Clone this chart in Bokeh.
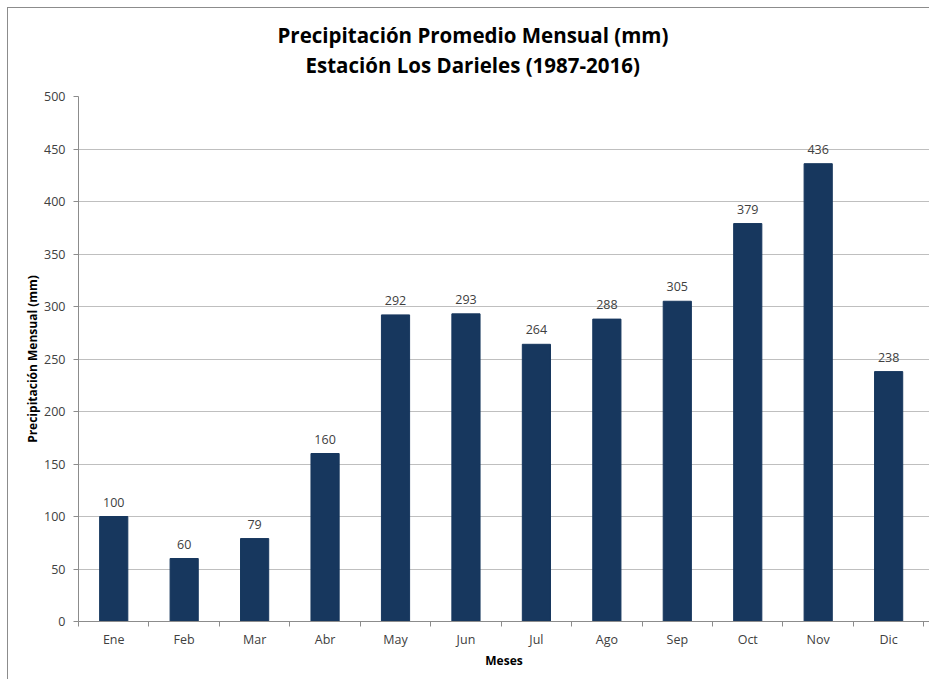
from bokeh.plotting import figure
from bokeh.models import ColumnDataSource, LabelSet, Title, FixedTicker, Range1d
from bokeh.core.properties import value
from bokeh.embed import file_html
from bokeh.resources import INLINE

months = ["Ene", "Feb", "Mar", "Abr", "May", "Jun", "Jul", "Ago", "Sep", "Oct", "Nov", "Dic"]
precip = [100, 60, 79, 160, 292, 293, 264, 288, 305, 379, 436, 238]
y_ticks = [0, 50, 100, 150, 200, 250, 300, 350, 400, 450, 500]

title_line1 = "Precipitación Promedio Mensual (mm)"
title_line2 = "Estación Los Darieles (1987-2016)"

xpos = [i + 0.5 for i in range(len(months))]
src = ColumnDataSource(dict(x=xpos, y=precip, label=[str(v) for v in precip]))

FONT = "Open Sans"
BAR = "#17375E"
GRID = "#bfbfbf"
AX = "#8c8c8c"
W, H = 921, 671

p = figure(width=W, height=H, output_backend="svg", toolbar_location=None,
           x_range=Range1d(0, len(months) + 0.08), y_range=Range1d(0, 500),
           min_border_left=70, min_border_right=0, min_border_top=88, min_border_bottom=58,
           title=None)
p.styles = {"outline": "1px solid #8c8c8c", "margin-left": "8px", "margin-top": "8px"}

p.vbar(x="x", top="y", width=0.4, source=src, fill_color=BAR, line_color=BAR)

labels = LabelSet(x="x", y="y", text="label", source=src, text_align="center",
                  text_baseline="bottom", y_offset=10, text_font=value(FONT),
                  text_font_size="12.5px", text_color="#404040")
p.add_layout(labels)

p.add_layout(Title(text=title_line2, align="left", offset=227, text_font=FONT,
                   text_font_size="20.5px", text_font_style="bold", text_color="#000000",
                   standoff=0, padding=dict(left=0, right=0, top=0, bottom=18)), "above")
p.add_layout(Title(text=title_line1, align="left", offset=199, text_font=FONT,
                   text_font_size="20.5px", text_font_style="bold", text_color="#000000",
                   standoff=0), "above")

p.outline_line_color = None
p.xgrid.grid_line_color = None
p.ygrid.grid_line_color = GRID
p.ygrid.grid_line_width = 1
p.ygrid.ticker = FixedTicker(ticks=y_ticks)

xa = p.xaxis[0]
xa.ticker = FixedTicker(ticks=xpos, minor_ticks=list(range(len(months) + 1)))
xa.major_label_overrides = {x: m for x, m in zip(xpos, months)}
xa.major_tick_out = 0
xa.major_tick_in = 0
xa.minor_tick_out = 5
xa.minor_tick_in = 0
xa.minor_tick_line_color = AX
xa.axis_line_color = AX
xa.major_label_standoff = 4
xa.major_label_text_font = FONT
xa.major_label_text_font_size = "12.5px"
xa.major_label_text_color = "#404040"
xa.axis_label = "Meses"
xa.axis_label_text_font = FONT
xa.axis_label_text_font_size = "12px"
xa.axis_label_text_font_style = "bold"
xa.axis_label_text_color = "#000000"
xa.axis_label_standoff = 1

ya = p.yaxis[0]
ya.ticker = FixedTicker(ticks=y_ticks)
ya.major_tick_out = 5
ya.major_tick_in = 0
ya.minor_tick_line_color = None
ya.major_tick_line_color = AX
ya.axis_line_color = AX
ya.major_label_standoff = 8
ya.major_label_text_font = FONT
ya.major_label_text_font_size = "12.5px"
ya.major_label_text_color = "#404040"
ya.axis_label = "Precipitación Mensual (mm)"
ya.axis_label_text_font = FONT
ya.axis_label_text_font_size = "12px"
ya.axis_label_text_font_style = "bold"
ya.axis_label_text_color = "#000000"
ya.axis_label_standoff = 0

open("out.html", "w").write(file_html(p, INLINE))
